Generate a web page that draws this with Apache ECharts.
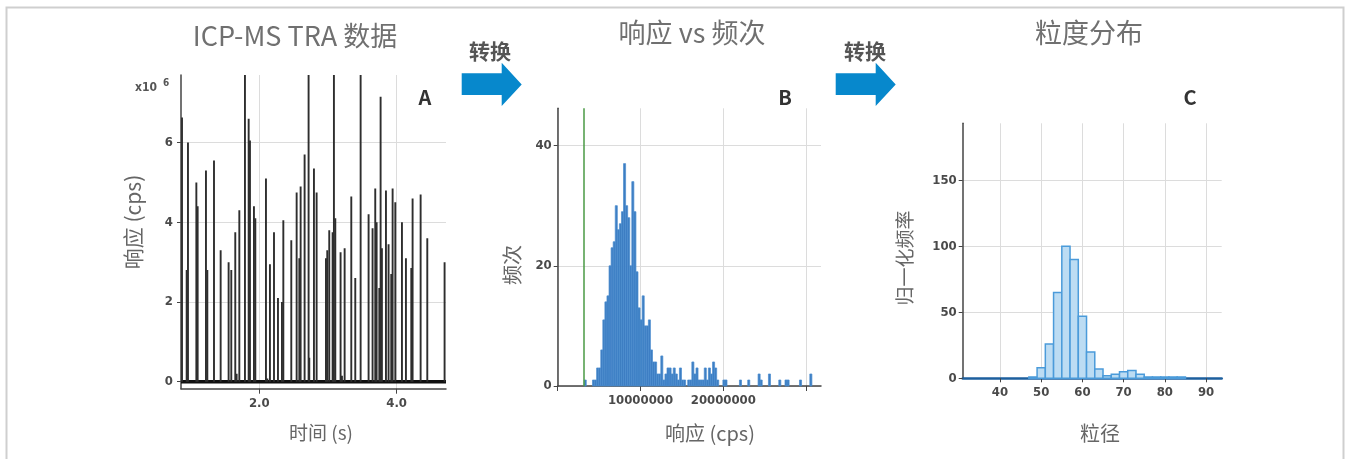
<!DOCTYPE html>
<html>
<head>
<meta charset="utf-8">
<script src="https://cdn.jsdelivr.net/npm/echarts@6/dist/echarts.min.js"></script>
<style>
  html, body { margin: 0; padding: 0; background: #fff; }
  #chart { width: 1351px; height: 459px; }
</style>
</head>
<body>
<div id="chart"></div>
<script>
// ---------- Panel A: ICP-MS TRA data (time s, response cps) ----------
const spikeTimes = [0.874, 0.942, 0.961, 1.083, 1.102, 1.223, 1.243, 1.340, 1.437, 1.553,
  1.592, 1.650, 1.670, 1.709, 1.791, 1.845, 1.864, 1.922, 1.942, 2.097,
  2.117, 2.155, 2.214, 2.272, 2.330, 2.350, 2.466, 2.544, 2.583, 2.602,
  2.660, 2.718, 2.728, 2.796, 2.835, 2.971, 2.990, 3.019, 3.068, 3.087,
  3.107, 3.184, 3.204, 3.243, 3.340, 3.398, 3.476, 3.592, 3.650, 3.689,
  3.709, 3.748, 3.767, 3.786, 3.845, 3.883, 3.922, 3.942, 3.981, 4.078,
  4.136, 4.214, 4.233, 4.350, 4.447, 4.699];
const spikeValues = [6.63e6, 2.8e6, 6.0e6, 5.0e6, 4.4e6, 5.3e6, 2.8e6, 5.55e6, 3.3e6, 3.0e6,
  2.8e6, 3.75e6, 0.2e6, 4.3e6, 9.0e6, 6.6e6, 6.05e6, 4.4e6, 4.1e6, 5.1e6,
  0.08e6, 2.95e6, 3.75e6, 2.1e6, 2.0e6, 4.05e6, 3.55e6, 4.75e6, 3.1e6, 4.9e6,
  5.7e6, 9.0e6, 0.6e6, 5.35e6, 4.75e6, 3.1e6, 3.3e6, 3.8e6, 3.75e6, 9.0e6,
  4.1e6, 3.25e6, 0.15e6, 3.35e6, 4.65e6, 2.6e6, 9.0e6, 4.2e6, 3.85e6, 4.85e6,
  4.0e6, 2.35e6, 7.15e6, 3.35e6, 4.8e6, 3.45e6, 2.7e6, 4.85e6, 4.5e6, 4.0e6,
  3.1e6, 2.85e6, 4.6e6, 4.7e6, 3.6e6, 3.0e6];
const timeTicks = [2.0, 4.0];
const respTicksA = [0, 2e6, 4e6, 6e6];

// ---------- Panel B: response histogram ----------
const respBinStart = 3.2e6;
const respBinWidth = 2.5e5;
const respCounts = [1, 0, 0, 0, 1, 1, 3, 3, 6, 11,
  14, 15, 20, 23, 24, 30, 26, 27, 29, 37,
  30, 28, 20, 34, 29, 19, 13, 11, 15, 10,
  10, 11, 6, 4, 4, 2, 2, 5, 1, 2,
  3, 3, 2, 3, 2, 1, 3, 1, 1, 0,
  1, 1, 4, 2, 3, 1, 1, 1, 3, 1,
  3, 2, 4, 3, 1, 0, 0, 1, 1, 0,
  0, 0, 0, 0, 0, 1, 0, 0, 0, 1,
  0, 0, 0, 0, 2, 1, 0, 0, 0, 2,
  0, 0, 0, 0, 1, 0, 0, 1, 1, 0,
  0, 0, 0, 0, 1, 0, 0, 0, 0, 2];
const respThreshold = 3.14e6;
const respTicksB = [0, 1e7, 2e7, 3e7];
const respLabelsB = [1e7, 2e7];
const countTicksB = [0, 20, 40];

// ---------- Panel C: particle size distribution ----------
const sizeBinStart = 47;
const sizeBinWidth = 2;
const sizeFreq = [1, 8, 26, 65, 100, 90, 47, 20, 7, 2, 3, 5, 6, 3, 1, 1, 1, 1, 1];
const sizeTicks = [40, 50, 60, 70, 80, 90];
const freqTicksC = [0, 50, 100, 150];

// ---------- texts ----------
const titles = ['ICP-MS TRA 数据', '响应 vs 频次', '粒度分布'];
const arrowText = '转换';
const panelLetters = ['A', 'B', 'C'];

const chart = echarts.init(document.getElementById('chart'));

const tickFont = {
  color: '#4a4a4a', fontSize: 13, fontWeight: 'bold',
  fontFamily: "'Liberation Sans Narrow', 'DejaVu Sans Condensed', 'Roboto', sans-serif"
};
const cjk = "'Noto Sans CJK SC', 'Noto Sans', sans-serif";
const gridLine = { show: true, lineStyle: { color: '#dcdcdc', width: 1 } };
const axisLine = { show: true, onZero: false, lineStyle: { color: '#444', width: 1.5 } };

function histRender(width, fill, stroke, lw) {
  return function (params, api) {
    const x0 = api.value(0), c = api.value(1);
    if (!c) return null;
    const a = api.coord([x0, c]);
    const b = api.coord([x0 + width, 0]);
    return {
      type: 'rect',
      shape: { x: a[0], y: a[1], width: b[0] - a[0], height: b[1] - a[1] },
      style: { fill: fill, stroke: stroke, lineWidth: lw }
    };
  };
}

function arrow(x0) {
  return {
    type: 'polygon',
    shape: { points: [[x0, 73.3], [x0 + 40, 73.3], [x0 + 40, 62.7], [x0 + 60, 84.5],
      [x0 + 40, 106], [x0 + 40, 95], [x0, 95]] },
    style: { fill: '#0788cc' }
  };
}
function txt(x, y, text, size, color, weight, rot) {
  return {
    type: 'text', x: x, y: y, rotation: rot || 0,
    style: { text: text, fontSize: size, fill: color, fontWeight: weight || 'normal',
      fontFamily: cjk, align: 'center', verticalAlign: 'middle' }
  };
}

const option = {
  backgroundColor: '#fff',
  animation: false,
  grid: [
    { left: 181, top: 75, width: 265, height: 313.7 },
    { left: 557.7, top: 108.3, width: 263.3, height: 277.7 },
    { left: 962.7, top: 123.3, width: 259, height: 255 }
  ],
  xAxis: [
    { gridIndex: 0, type: 'value', min: 0.8594, max: 4.7196,
      axisLine: axisLine,
      axisTick: { show: true, customValues: timeTicks, length: 5, lineStyle: { color: '#444' } },
      axisLabel: Object.assign({ customValues: timeTicks, margin: 8, formatter: v => v.toFixed(1) }, tickFont),
      splitLine: gridLine },
    { gridIndex: 1, type: 'value', min: 0, max: 3.18e7,
      axisLine: axisLine,
      axisTick: { show: true, customValues: respTicksB, length: 5, lineStyle: { color: '#444' } },
      axisLabel: Object.assign({ customValues: respLabelsB, margin: 8, formatter: v => String(v) }, tickFont),
      splitLine: gridLine },
    { gridIndex: 2, type: 'value', min: 30.95, max: 93.8,
      axisLine: { show: true, onZero: false, lineStyle: { color: '#1d5f9e', width: 2.5 } },
      axisTick: { show: true, customValues: sizeTicks, length: 4, lineStyle: { color: '#444' } },
      axisLabel: Object.assign({ customValues: sizeTicks, margin: 8 }, tickFont),
      splitLine: gridLine }
  ],
  yAxis: [
    { gridIndex: 0, type: 'value', min: -1.757e5, max: 7.696e6,
      axisLine: axisLine,
      axisTick: { show: true, customValues: respTicksA, length: 4, lineStyle: { color: '#444' } },
      axisLabel: Object.assign({ customValues: respTicksA, margin: 8, formatter: v => String(v / 1e6) }, tickFont),
      splitLine: gridLine },
    { gridIndex: 1, type: 'value', min: 0, max: 46.2,
      axisLine: axisLine,
      axisTick: { show: true, customValues: countTicksB, length: 4, lineStyle: { color: '#444' } },
      axisLabel: Object.assign({ customValues: countTicksB, margin: 6 }, tickFont),
      splitLine: gridLine },
    { gridIndex: 2, type: 'value', min: 0, max: 193.2,
      axisLine: axisLine,
      axisTick: { show: true, customValues: freqTicksC, length: 4, lineStyle: { color: '#444' } },
      axisLabel: Object.assign({ customValues: freqTicksC, margin: 6 }, tickFont),
      splitLine: gridLine }
  ],
  series: [
    { type: 'line', xAxisIndex: 0, yAxisIndex: 0, symbol: 'none', silent: true,
      data: [[0.8594, 0], [4.7196, 0]], lineStyle: { color: '#111', width: 3.5 }, z: 3 },
    { type: 'custom', xAxisIndex: 0, yAxisIndex: 0, clip: true, z: 4,
      data: spikeTimes.map((t, i) => [t, spikeValues[i]]),
      renderItem: function (params, api) {
        const p0 = api.coord([api.value(0), 0]);
        const p1 = api.coord([api.value(0), api.value(1)]);
        const top = Math.max(p1[1], params.coordSys.y);
        return { type: 'line', shape: { x1: p0[0], y1: p0[1], x2: p0[0], y2: top },
          style: { stroke: '#2e2e2e', lineWidth: 1.9 } };
      } },
    { type: 'custom', xAxisIndex: 1, yAxisIndex: 1, z: 4,
      data: respCounts.map((c, i) => [respBinStart + i * respBinWidth, c]),
      renderItem: histRender(respBinWidth, '#3d7ec3', '#4a8ccf', 0.7),
      markLine: { silent: true, symbol: 'none', label: { show: false },
        lineStyle: { color: '#4a9a44', width: 1.5, type: 'solid' },
        data: [{ xAxis: respThreshold }] } },
    { type: 'custom', xAxisIndex: 2, yAxisIndex: 2, z: 4,
      data: sizeFreq.map((c, i) => [sizeBinStart + i * sizeBinWidth, c]),
      renderItem: histRender(sizeBinWidth, '#bcdcf3', '#4b9bda', 1.5) }
  ],
  graphic: [
    { type: 'rect', shape: { x: 6.5, y: 7.5, width: 1337, height: 470 },
      style: { fill: 'none', stroke: '#cfcfcf', lineWidth: 2 }, z: 0 },
    txt(295, 36, titles[0], 27, '#707070'),
    txt(692, 33, titles[1], 27, '#707070'),
    txt(1089, 33, titles[2], 27, '#707070'),
    txt(490, 51, arrowText, 21, '#555', 'bold'),
    txt(865, 51, arrowText, 21, '#555', 'bold'),
    arrow(461.7),
    arrow(835.7),
    txt(425, 97, panelLetters[0], 20, '#333', 'bold'),
    txt(785, 97, panelLetters[1], 20, '#333', 'bold'),
    txt(1190, 97, panelLetters[2], 20, '#333', 'bold'),
    { type: 'text', x: 135, y: 88, style: { text: 'x10', fontSize: 12, fill: '#555',
      fontFamily: tickFont.fontFamily, fontWeight: 'bold', verticalAlign: 'middle' } },
    { type: 'text', x: 163, y: 83, style: { text: '6', fontSize: 10, fill: '#555',
      fontFamily: tickFont.fontFamily, fontWeight: 'bold', verticalAlign: 'middle' } },
    txt(133, 222, '响应 (cps)', 21, '#666', 'normal', Math.PI / 2),
    txt(321, 433, '时间 (s)', 19, '#666'),
    txt(512, 265, '频次', 20, '#666', 'normal', Math.PI / 2),
    txt(710, 433, '响应 (cps)', 20, '#666'),
    txt(905, 258, '归一化频率', 19, '#666', 'normal', Math.PI / 2),
    txt(1100, 433, '粒径', 20, '#666')
  ]
};
chart.setOption(option);
</script>
</body>
</html>
